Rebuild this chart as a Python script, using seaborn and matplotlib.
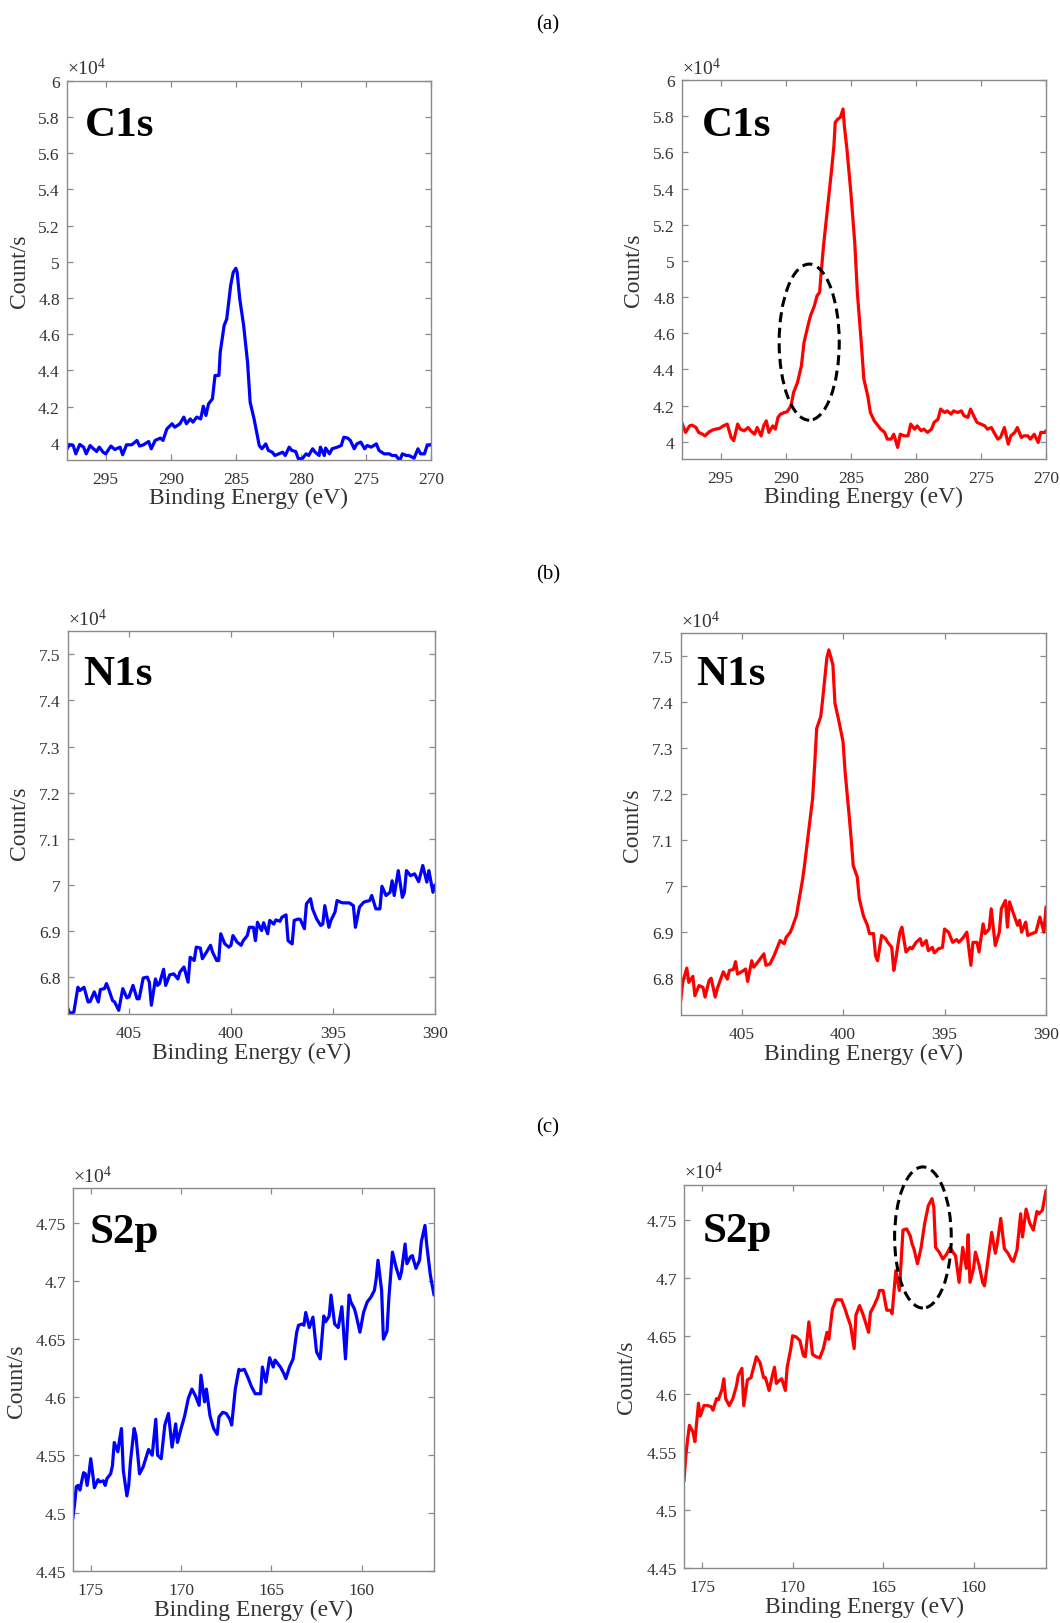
import matplotlib
matplotlib.use("Agg")
import matplotlib.pyplot as plt
import seaborn as sns
from matplotlib.patches import Ellipse
from matplotlib.ticker import FixedLocator, FuncFormatter

# ---------------- data (intensity in units of 10^4 count/s) ----------------
C1S_BLUE_E = [298.0, 297.8, 297.5, 297.3, 297.0, 296.7, 296.5, 296.2, 296.0, 295.7,
              295.5, 295.2, 295.0, 294.6, 294.3, 293.9, 293.7, 293.4, 293.0, 292.6,
              292.4, 292.1, 291.7, 291.5, 291.2, 290.8, 290.6, 290.3, 289.9, 289.7,
              289.3, 289.0, 288.8, 288.5, 288.3, 288.0, 287.7, 287.5, 287.3, 287.1,
              286.8, 286.6, 286.3, 286.2, 285.9, 285.7, 285.4, 285.2, 285.0, 284.9,
              284.7, 284.4, 284.1, 283.9, 283.6, 283.2, 283.0, 282.7, 282.5, 282.2,
              282.0, 281.7, 281.4, 281.2, 280.9, 280.7, 280.4, 280.2, 279.9, 279.6,
              279.4, 279.1, 278.9, 278.6, 278.5, 278.2, 278.1, 277.8, 277.6, 277.2,
              276.9, 276.7, 276.4, 276.2, 275.9, 275.7, 275.4, 275.1, 274.9, 274.6,
              274.2, 274.0, 273.6, 273.2, 273.0, 272.7, 272.4, 272.2, 271.9, 271.7,
              271.3, 271.0, 270.8, 270.5, 270.3, 270.0]
C1S_BLUE_I = [3.963, 3.989, 3.985, 3.939, 3.991, 3.976, 3.939, 3.985, 3.971, 3.952,
              3.976, 3.948, 3.939, 3.982, 3.963, 3.976, 3.934, 3.989, 3.989, 4.013,
              3.982, 3.989, 4.007, 3.967, 4.013, 4.026, 4.013, 4.077, 4.105, 4.086,
              4.105, 4.142, 4.105, 4.132, 4.114, 4.142, 4.132, 4.202, 4.151, 4.215,
              4.243, 4.372, 4.372, 4.500, 4.648, 4.684, 4.868, 4.942, 4.964, 4.942,
              4.795, 4.648, 4.445, 4.224, 4.132, 3.985, 3.967, 3.994, 3.958, 3.948,
              3.930, 3.939, 3.948, 3.930, 3.976, 3.958, 3.952, 3.912, 3.912, 3.939,
              3.930, 3.967, 3.948, 3.930, 3.976, 3.930, 3.971, 3.939, 3.967, 3.976,
              3.985, 4.031, 4.026, 4.013, 3.967, 3.994, 4.004, 3.967, 3.985, 3.976,
              3.994, 3.958, 3.939, 3.939, 3.930, 3.930, 3.902, 3.939, 3.930, 3.930,
              3.915, 3.967, 3.939, 3.939, 3.985, 3.989]

C1S_RED_E = [298.0, 297.7, 297.4, 297.2, 296.9, 296.7, 296.4, 296.2, 295.9, 295.6,
             295.4, 295.1, 294.8, 294.5, 294.2, 294.0, 293.7, 293.5, 293.2, 292.9,
             292.7, 292.4, 292.2, 291.9, 291.7, 291.5, 291.3, 291.0, 290.8, 290.6,
             290.4, 290.1, 289.9, 289.6, 289.4, 289.1, 288.8, 288.6, 288.3, 288.1,
             287.8, 287.6, 287.4, 287.3, 287.1, 286.8, 286.5, 286.3, 286.2, 286.0,
             285.8, 285.6, 285.5, 285.3, 285.0, 284.7, 284.5, 284.2, 284.0, 283.7,
             283.5, 283.2, 282.9, 282.7, 282.4, 282.2, 281.9, 281.7, 281.4, 281.2,
             280.9, 280.6, 280.4, 280.1, 279.9, 279.6, 279.4, 279.1, 278.8, 278.6,
             278.3, 278.1, 277.8, 277.6, 277.3, 277.1, 276.8, 276.5, 276.3, 276.0,
             275.8, 275.5, 275.3, 275.0, 274.7, 274.5, 274.2, 274.0, 273.7, 273.5,
             273.2, 272.9, 272.7, 272.4, 272.2, 271.9, 271.7, 271.4, 271.2, 270.9,
             270.6, 270.4, 270.1, 270.0]
C1S_RED_I = [4.107, 4.052, 4.088, 4.092, 4.079, 4.052, 4.042, 4.033, 4.055, 4.066,
             4.070, 4.074, 4.088, 4.098, 4.024, 4.006, 4.098, 4.070, 4.061, 4.079,
             4.061, 4.042, 4.079, 4.033, 4.088, 4.116, 4.052, 4.088, 4.070, 4.135,
             4.153, 4.162, 4.166, 4.199, 4.273, 4.328, 4.420, 4.549, 4.641, 4.697,
             4.752, 4.807, 4.826, 4.918, 5.084, 5.287, 5.489, 5.637, 5.766, 5.784,
             5.794, 5.840, 5.747, 5.618, 5.379, 5.102, 4.826, 4.549, 4.347, 4.254,
             4.162, 4.116, 4.088, 4.070, 4.052, 4.015, 4.015, 4.042, 3.969, 4.042,
             4.033, 4.033, 4.098, 4.070, 4.088, 4.061, 4.070, 4.052, 4.070, 4.107,
             4.125, 4.181, 4.162, 4.171, 4.153, 4.171, 4.162, 4.171, 4.144, 4.135,
             4.181, 4.135, 4.107, 4.098, 4.088, 4.070, 4.079, 4.052, 4.015, 4.024,
             4.079, 3.987, 4.033, 4.052, 4.079, 4.024, 4.033, 4.033, 4.015, 4.042,
             3.996, 4.052, 4.052, 4.061]

N1S_BLUE_E = [408.0, 407.9, 407.7, 407.5, 407.4, 407.2, 407.0, 406.9, 406.7, 406.5,
              406.4, 406.2, 406.1, 406.0, 405.8, 405.7, 405.5, 405.3, 405.1, 405.0,
              404.8, 404.6, 404.5, 404.3, 404.1, 404.0, 403.9, 403.7, 403.6, 403.5,
              403.3, 403.2, 403.0, 402.8, 402.6, 402.5, 402.3, 402.1, 402.0, 401.8,
              401.7, 401.5, 401.4, 401.2, 401.0, 400.9, 400.7, 400.6, 400.5, 400.3,
              400.1, 400.0, 399.9, 399.7, 399.5, 399.4, 399.2, 399.1, 398.9, 398.8,
              398.7, 398.5, 398.4, 398.2, 398.1, 397.9, 397.8, 397.6, 397.5, 397.3,
              397.2, 397.0, 396.9, 396.7, 396.6, 396.4, 396.3, 396.1, 396.0, 395.8,
              395.6, 395.5, 395.4, 395.2, 395.1, 394.9, 394.8, 394.6, 394.5, 394.2,
              394.0, 393.9, 393.7, 393.5, 393.4, 393.2, 393.1, 392.9, 392.7, 392.6,
              392.4, 392.2, 392.1, 392.0, 391.8, 391.6, 391.5, 391.4, 391.2, 391.0,
              390.8, 390.6, 390.4, 390.3, 390.1, 390.0]
N1S_BLUE_I = [6.733, 6.721, 6.724, 6.778, 6.771, 6.778, 6.746, 6.747, 6.768, 6.746,
              6.773, 6.775, 6.786, 6.775, 6.749, 6.746, 6.728, 6.775, 6.755, 6.757,
              6.782, 6.753, 6.753, 6.798, 6.800, 6.789, 6.739, 6.796, 6.782, 6.786,
              6.817, 6.782, 6.805, 6.807, 6.796, 6.811, 6.822, 6.789, 6.843, 6.836,
              6.865, 6.863, 6.840, 6.854, 6.869, 6.854, 6.836, 6.836, 6.894, 6.872,
              6.865, 6.869, 6.890, 6.876, 6.869, 6.879, 6.890, 6.908, 6.908, 6.879,
              6.919, 6.901, 6.918, 6.894, 6.923, 6.915, 6.924, 6.921, 6.930, 6.935,
              6.879, 6.872, 6.923, 6.926, 6.925, 6.905, 6.959, 6.970, 6.948, 6.926,
              6.912, 6.915, 6.955, 6.908, 6.923, 6.941, 6.966, 6.962, 6.961, 6.961,
              6.955, 6.908, 6.952, 6.962, 6.964, 6.966, 6.977, 6.948, 6.948, 6.997,
              6.977, 6.984, 7.009, 6.977, 7.031, 6.973, 6.984, 7.031, 7.020, 7.024,
              7.007, 7.042, 7.006, 7.031, 6.984, 7.000]

N1S_RED_E = [408.0, 407.9, 407.7, 407.6, 407.4, 407.3, 407.1, 406.9, 406.8, 406.6,
             406.5, 406.3, 406.2, 406.0, 405.9, 405.7, 405.6, 405.4, 405.3, 405.2,
             405.0, 404.8, 404.7, 404.5, 404.4, 404.2, 404.1, 403.9, 403.8, 403.6,
             403.4, 403.3, 403.1, 402.9, 402.8, 402.6, 402.5, 402.3, 402.2, 402.0,
             401.9, 401.7, 401.5, 401.4, 401.3, 401.1, 401.0, 400.8, 400.7, 400.5,
             400.4, 400.2, 400.0, 399.9, 399.7, 399.6, 399.5, 399.3, 399.2, 399.0,
             398.8, 398.7, 398.5, 398.4, 398.3, 398.1, 397.9, 397.8, 397.6, 397.5,
             397.4, 397.2, 397.1, 396.9, 396.7, 396.6, 396.4, 396.2, 396.1, 395.9,
             395.8, 395.6, 395.5, 395.3, 395.1, 395.0, 394.8, 394.6, 394.4, 394.3,
             394.1, 393.9, 393.7, 393.6, 393.4, 393.3, 393.1, 393.0, 392.8, 392.7,
             392.5, 392.3, 392.2, 392.0, 391.9, 391.8, 391.6, 391.4, 391.3, 391.2,
             391.0, 390.9, 390.7, 390.5, 390.3, 390.1, 390.0]
N1S_RED_I = [6.751, 6.791, 6.822, 6.791, 6.804, 6.762, 6.784, 6.780, 6.759, 6.795,
             6.800, 6.759, 6.777, 6.802, 6.814, 6.798, 6.817, 6.819, 6.836, 6.809,
             6.814, 6.820, 6.793, 6.838, 6.824, 6.835, 6.841, 6.853, 6.828, 6.831,
             6.849, 6.860, 6.882, 6.875, 6.889, 6.900, 6.911, 6.936, 6.962, 7.013,
             7.045, 7.118, 7.191, 7.263, 7.343, 7.369, 7.408, 7.496, 7.514, 7.481,
             7.398, 7.358, 7.314, 7.249, 7.154, 7.103, 7.045, 7.020, 6.973, 6.936,
             6.915, 6.897, 6.897, 6.849, 6.838, 6.893, 6.886, 6.878, 6.867, 6.817,
             6.842, 6.900, 6.911, 6.857, 6.867, 6.864, 6.878, 6.886, 6.871, 6.882,
             6.860, 6.867, 6.855, 6.864, 6.867, 6.907, 6.900, 6.878, 6.884, 6.878,
             6.887, 6.900, 6.828, 6.878, 6.878, 6.857, 6.918, 6.897, 6.907, 6.951,
             6.871, 6.900, 6.951, 6.969, 6.911, 6.966, 6.940, 6.915, 6.926, 6.900,
             6.922, 6.893, 6.897, 6.900, 6.933, 6.900, 6.955]

S2P_BLUE_E = [176.0, 175.9, 175.8, 175.7, 175.6, 175.4, 175.3, 175.2, 175.1, 175.0,
              174.9, 174.8, 174.6, 174.5, 174.3, 174.2, 174.1, 173.9, 173.8, 173.7,
              173.5, 173.4, 173.3, 173.2, 173.0, 172.9, 172.8, 172.6, 172.5, 172.3,
              172.1, 171.9, 171.8, 171.6, 171.4, 171.3, 171.1, 170.9, 170.7, 170.5,
              170.3, 170.2, 170.0, 169.8, 169.6, 169.4, 169.2, 169.0, 168.9, 168.7,
              168.6, 168.4, 168.2, 168.0, 167.9, 167.7, 167.5, 167.3, 167.2, 167.0,
              166.8, 166.7, 166.5, 166.3, 166.1, 165.9, 165.6, 165.5, 165.3, 165.1,
              164.9, 164.8, 164.5, 164.3, 164.2, 164.0, 163.8, 163.6, 163.5, 163.3,
              163.2, 163.1, 162.9, 162.7, 162.5, 162.3, 162.1, 162.0, 161.8, 161.7,
              161.5, 161.3, 161.1, 160.9, 160.7, 160.6, 160.4, 160.3, 160.1, 159.9,
              159.7, 159.5, 159.3, 159.2, 159.1, 158.9, 158.8, 158.6, 158.5, 158.3,
              158.1, 157.9, 157.8, 157.6, 157.5, 157.3, 157.2, 157.0, 156.8, 156.7,
              156.5, 156.4, 156.2, 156.0]
S2P_BLUE_I = [4.495, 4.507, 4.523, 4.524, 4.520, 4.535, 4.534, 4.524, 4.534, 4.547,
              4.535, 4.522, 4.529, 4.527, 4.528, 4.524, 4.530, 4.534, 4.541, 4.561,
              4.553, 4.564, 4.573, 4.537, 4.515, 4.524, 4.545, 4.573, 4.567, 4.534,
              4.540, 4.550, 4.555, 4.550, 4.581, 4.550, 4.547, 4.576, 4.586, 4.557,
              4.577, 4.561, 4.573, 4.584, 4.599, 4.607, 4.601, 4.593, 4.619, 4.596,
              4.607, 4.584, 4.573, 4.568, 4.583, 4.587, 4.586, 4.581, 4.576, 4.607,
              4.624, 4.623, 4.624, 4.617, 4.609, 4.603, 4.603, 4.626, 4.613, 4.634,
              4.626, 4.632, 4.626, 4.620, 4.616, 4.626, 4.633, 4.656, 4.662, 4.663,
              4.662, 4.673, 4.660, 4.669, 4.639, 4.633, 4.670, 4.665, 4.670, 4.688,
              4.663, 4.660, 4.678, 4.633, 4.688, 4.682, 4.676, 4.670, 4.656, 4.673,
              4.682, 4.686, 4.692, 4.702, 4.718, 4.692, 4.650, 4.657, 4.685, 4.725,
              4.712, 4.702, 4.708, 4.732, 4.715, 4.721, 4.722, 4.711, 4.718, 4.734,
              4.748, 4.731, 4.705, 4.688]

S2P_RED_E = [176.0, 175.9, 175.8, 175.7, 175.5, 175.4, 175.2, 175.1, 174.9, 174.7,
             174.5, 174.4, 174.2, 174.1, 173.9, 173.8, 173.7, 173.5, 173.3, 173.1,
             173.0, 172.8, 172.7, 172.5, 172.3, 172.1, 172.0, 171.8, 171.6, 171.5,
             171.3, 171.1, 171.0, 170.9, 170.7, 170.6, 170.4, 170.3, 170.1, 170.0,
             169.8, 169.6, 169.4, 169.3, 169.1, 168.9, 168.7, 168.5, 168.3, 168.1,
             168.0, 167.8, 167.6, 167.3, 167.1, 167.0, 166.8, 166.6, 166.5, 166.3,
             166.1, 165.8, 165.7, 165.5, 165.3, 165.2, 165.0, 164.8, 164.6, 164.5,
             164.3, 164.1, 163.9, 163.7, 163.5, 163.4, 163.3, 163.1, 162.9, 162.7,
             162.5, 162.3, 162.2, 162.1, 161.9, 161.7, 161.5, 161.3, 161.1, 161.0,
             160.8, 160.6, 160.4, 160.3, 160.2, 160.0, 159.9, 159.7, 159.5, 159.4,
             159.2, 159.0, 158.8, 158.7, 158.5, 158.3, 158.1, 157.9, 157.8, 157.6,
             157.4, 157.3, 157.1, 156.9, 156.7, 156.5, 156.4, 156.2, 156.0]
S2P_RED_I = [4.525, 4.547, 4.561, 4.573, 4.567, 4.559, 4.592, 4.581, 4.590, 4.590,
             4.589, 4.586, 4.596, 4.595, 4.604, 4.613, 4.596, 4.590, 4.596, 4.607,
             4.616, 4.622, 4.590, 4.612, 4.614, 4.626, 4.632, 4.627, 4.614, 4.614,
             4.603, 4.617, 4.623, 4.609, 4.612, 4.613, 4.603, 4.623, 4.639, 4.650,
             4.649, 4.646, 4.633, 4.632, 4.662, 4.634, 4.632, 4.631, 4.639, 4.653,
             4.647, 4.673, 4.681, 4.681, 4.673, 4.668, 4.659, 4.639, 4.668, 4.676,
             4.668, 4.653, 4.670, 4.676, 4.683, 4.689, 4.689, 4.672, 4.672, 4.669,
             4.706, 4.689, 4.741, 4.742, 4.736, 4.729, 4.725, 4.712, 4.726, 4.747,
             4.762, 4.768, 4.761, 4.726, 4.722, 4.716, 4.720, 4.726, 4.721, 4.719,
             4.696, 4.726, 4.708, 4.737, 4.696, 4.708, 4.722, 4.711, 4.696, 4.693,
             4.716, 4.739, 4.721, 4.729, 4.751, 4.725, 4.721, 4.715, 4.714, 4.724,
             4.755, 4.735, 4.759, 4.747, 4.741, 4.757, 4.755, 4.758, 4.775]

ROW_TITLES = ["(a)", "(b)", "(c)"]
PEAK_NAMES = ["C1s", "N1s", "S2p"]
XLABEL = "Binding Energy (eV)"
YLABEL = "Count/s"

C1S_XTICKS = [295, 290, 285, 280, 275, 270]
C1S_YTICKS = [4.0, 4.2, 4.4, 4.6, 4.8, 5.0, 5.2, 5.4, 5.6, 5.8, 6.0]
N1S_XTICKS = [405, 400, 395, 390]
N1S_YTICKS = [6.8, 6.9, 7.0, 7.1, 7.2, 7.3, 7.4, 7.5]
S2P_XTICKS = [175, 170, 165, 160]
S2P_YTICKS = [4.45, 4.5, 4.55, 4.6, 4.65, 4.7, 4.75]

# highlighted regions (dashed ellipses): centre energy, centre intensity, width, height
C1S_ELLIPSE = (288.2, 4.551, 4.62, 0.863)
S2P_ELLIPSE = (162.8, 4.7346, 3.13, 0.1214)

# ---------------- style ----------------
sns.set_theme(style="white")
plt.rcParams["font.family"] = ["Liberation Serif", "DejaVu Serif"]
plt.rcParams["mathtext.fontset"] = "custom"
plt.rcParams["mathtext.rm"] = "Liberation Serif"
plt.rcParams["mathtext.it"] = "Liberation Serif:italic"
plt.rcParams["mathtext.bf"] = "Liberation Serif:bold"

W, H = 1060, 1624
fig = plt.figure(figsize=(W / 100, H / 100), dpi=100)
fig.patch.set_facecolor("white")

SPINE = "#8a8a8a"
TXT = "#333333"


def add_ax(l, t, r, b):
    return fig.add_axes([l / W, 1 - b / H, (r - l) / W, (b - t) / H])


panels = [
    dict(box=(66.7, 81.7, 431, 461), e=C1S_BLUE_E, i=C1S_BLUE_I, c="#0000ff", name=PEAK_NAMES[0],
         xlim=(298, 270), ylim=(3.905, 6.0), xt=C1S_XTICKS, yt=C1S_YTICKS, ylx=-0.100,
         tx=0.050, ty=0.857, ell=None),
    dict(box=(681.7, 81, 1046, 460), e=C1S_RED_E, i=C1S_RED_I, c="#ff0000", name=PEAK_NAMES[0],
         xlim=(298, 270), ylim=(3.905, 6.0), xt=C1S_XTICKS, yt=C1S_YTICKS, ylx=-0.103,
         tx=0.055, ty=0.855, ell=C1S_ELLIPSE),
    dict(box=(67.7, 632.3, 435, 1015), e=N1S_BLUE_E, i=N1S_BLUE_I, c="#0000ff", name=PEAK_NAMES[1],
         xlim=(408, 390), ylim=(6.72, 7.55), xt=N1S_XTICKS, yt=N1S_YTICKS, ylx=-0.103,
         tx=0.041, ty=0.862, ell=None),
    dict(box=(680.7, 634.3, 1046, 1016), e=N1S_RED_E, i=N1S_RED_I, c="#ff0000", name=PEAK_NAMES[1],
         xlim=(408, 390), ylim=(6.72, 7.55), xt=N1S_XTICKS, yt=N1S_YTICKS, ylx=-0.102,
         tx=0.041, ty=0.867, ell=None),
    dict(box=(72.7, 1189.3, 434, 1572.3), e=S2P_BLUE_E, i=S2P_BLUE_I, c="#0000ff", name=PEAK_NAMES[2],
         xlim=(176, 156), ylim=(4.45, 4.78), xt=S2P_XTICKS, yt=S2P_YTICKS, ylx=-0.127,
         tx=0.048, ty=0.859, ell=None),
    dict(box=(684, 1185.7, 1046, 1569.3), e=S2P_RED_E, i=S2P_RED_I, c="#ff0000", name=PEAK_NAMES[2],
         xlim=(176, 156), ylim=(4.45, 4.78), xt=S2P_XTICKS, yt=S2P_YTICKS, ylx=-0.129,
         tx=0.053, ty=0.854, ell=S2P_ELLIPSE),
]

fmt = FuncFormatter(lambda v, p: ("%g" % round(v, 3)))

for p in panels:
    ax = add_ax(*p["box"])
    ax.set_facecolor("white")
    sns.lineplot(x=p["e"], y=p["i"], ax=ax, color=p["c"], linewidth=2.3,
                 estimator=None, sort=False)
    ax.set_xlim(*p["xlim"])
    ax.set_ylim(*p["ylim"])
    ax.xaxis.set_major_locator(FixedLocator(p["xt"]))
    ax.yaxis.set_major_locator(FixedLocator(p["yt"]))
    ax.xaxis.set_major_formatter(fmt)
    ax.yaxis.set_major_formatter(fmt)
    for s in ax.spines.values():
        s.set_visible(True)
        s.set_color(SPINE)
        s.set_linewidth(1.0)
    ax.tick_params(axis="both", which="major", direction="in", length=4.5, width=0.9,
                   color=SPINE, labelcolor=TXT, labelsize=12.5,
                   bottom=True, top=True, left=True, right=True)
    ax.tick_params(axis="x", pad=8)
    ax.tick_params(axis="y", pad=5)
    ax.set_xlabel(XLABEL, fontsize=17, color=TXT)
    ax.set_ylabel(YLABEL, fontsize=17, color=TXT)
    ax.xaxis.set_label_coords(0.5, -0.072)
    ax.yaxis.set_label_coords(p["ylx"], 0.5)
    ax.text(0.0, 1.006, r"$\times10^{4}$", transform=ax.transAxes, ha="left", va="bottom",
            fontsize=14, color=TXT)
    ax.text(p["tx"], p["ty"], p["name"], transform=ax.transAxes, ha="left", va="baseline",
            fontsize=31, fontweight="bold", color="black")
    if p["ell"] is not None:
        cx, cy, w, h = p["ell"]
        ax.add_patch(Ellipse((cx, cy), width=w, height=h, fill=False, edgecolor="black",
                             linewidth=2.2, linestyle=(0, (3.3, 1.8)), clip_on=False, zorder=5))

for title, y in zip(ROW_TITLES, [25, 575, 1128]):
    fig.text(548 / W, 1 - y / H, title, ha="center", va="center", fontsize=15, color="black")

fig.savefig("out.png", dpi=100, facecolor="white")
